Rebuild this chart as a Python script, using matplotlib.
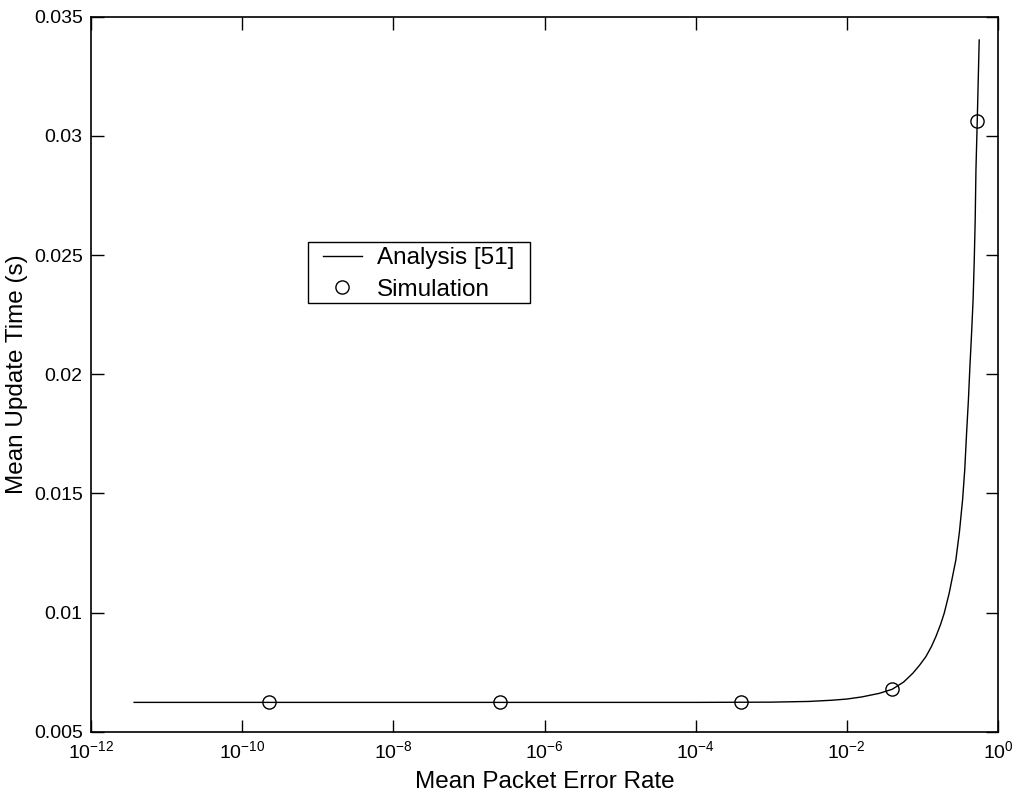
import matplotlib
matplotlib.use("Agg")
import matplotlib.pyplot as plt
from matplotlib.patches import Rectangle
import numpy as np

plt.rcParams['font.family'] = ['Liberation Sans', 'DejaVu Sans']
plt.rcParams['mathtext.default'] = 'regular'

# Analysis curve (log10 of packet error rate, seconds)
analysis_logp = [-11.43, -9.0, -6.0, -4.0, -3.0, -2.5, -2.2, -2.0, -1.8, -1.57,
                 -1.40, -1.25, -1.128, -1.04, -0.954, -0.88, -0.822, -0.76,
                 -0.712, -0.646, -0.593, -0.558, -0.51, -0.469, -0.44, -0.416,
                 -0.392, -0.372, -0.350, -0.330, -0.315, -0.302, -0.292, -0.275,
                 -0.262, -0.249]
analysis_time = [0.00623, 0.00623, 0.00623, 0.00623, 0.00624, 0.00627, 0.00632,
                 0.00637, 0.00646, 0.00661, 0.00678, 0.00708, 0.00745, 0.00778,
                 0.00815, 0.00858, 0.00899, 0.00950, 0.00997, 0.01081, 0.01165,
                 0.01220, 0.01340, 0.01472, 0.01600, 0.01752, 0.01890, 0.02031,
                 0.02170, 0.02310, 0.02470, 0.02647, 0.02857, 0.03060, 0.03230,
                 0.03402]

# Simulation points
sim_per = [2.25e-10, 2.55e-7, 3.95e-4, 3.95e-2, 0.53]
sim_time = [0.00623, 0.00623, 0.00623, 0.00678, 0.03064]

yticks = [0.005, 0.01, 0.015, 0.02, 0.025, 0.03, 0.035]
ytick_labels = ['0.005', '0.01', '0.015', '0.02', '0.025', '0.03', '0.035']
xticks = [1e-12, 1e-10, 1e-8, 1e-6, 1e-4, 1e-2, 1e0]

fig = plt.figure(figsize=(10.16, 7.93), dpi=100)
ax = fig.add_axes([0.0896, 0.0773, 0.8927, 0.9017])

ax.plot(10 ** np.array(analysis_logp), analysis_time, color='black', lw=1.0,
        label='Analysis [51]')
ax.plot(sim_per, sim_time, 'o', mfc='none', mec='black', ms=9.5, mew=1.0,
        label='Simulation')

ax.set_xscale('log')
ax.set_xlim(1e-12, 1e0)
ax.set_ylim(0.005, 0.035)
ax.set_xticks(xticks)
ax.xaxis.set_minor_locator(matplotlib.ticker.NullLocator())
ax.set_yticks(yticks)
ax.set_yticklabels(ytick_labels)

ax.tick_params(direction='in', length=9, width=1, top=True, right=True,
               labelsize=14, pad=6)
for s in ax.spines.values():
    s.set_linewidth(1.2)

ax.set_xlabel('Mean Packet Error Rate', fontsize=17.5)
ax.xaxis.set_label_coords(0.5, -0.055)
ax.set_ylabel('Mean Update Time (s)', fontsize=17.5, labelpad=4)

# legend box (matlab style: wide side margins)
ax.add_patch(Rectangle((0.2393, 0.600), 0.2447, 0.0853, transform=ax.transAxes,
                       facecolor='white', edgecolor='black', lw=1.0, zorder=4))
leg = ax.legend(loc='upper left', bbox_to_anchor=(0.2555, 0.6775), borderaxespad=0,
                frameon=False, fontsize=17.5, handlelength=1.6,
                handletextpad=0.62, borderpad=0, labelspacing=0.38)
leg.set_zorder(5)

fig.savefig('out.png', dpi=100)
